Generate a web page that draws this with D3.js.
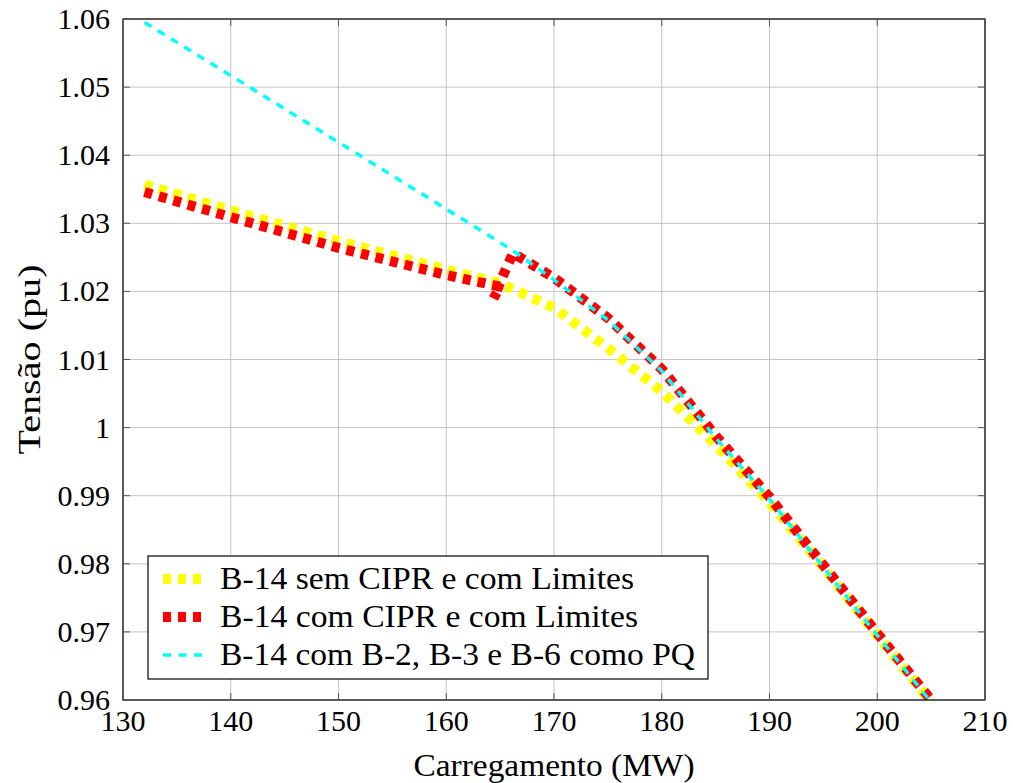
<!DOCTYPE html>
<html><head><meta charset="utf-8">
<script src="https://cdn.jsdelivr.net/npm/d3@7"></script>
</head><body style="margin:0;background:#fff"><svg id="c" width="1013" height="783"></svg>
<script>
// ---- data ----
const xTicks = [130,140,150,160,170,180,190,200,210];
const yTicks = [0.96,0.97,0.98,0.99,1.00,1.01,1.02,1.03,1.04,1.05,1.06];
const yTickLabels = ["0.96","0.97","0.98","0.99","1","1.01","1.02","1.03","1.04","1.05","1.06"];
const seriesNames = ["B-14 sem CIPR e com Limites","B-14 com CIPR e com Limites","B-14 com B-2, B-3 e B-6 como PQ"];

const yellowX = [132,140,150,160,165,170,175,180,185,190,195,200,205];
const yellowY = [1.0357,1.0319,1.0274,1.0232,1.0212,1.0176,1.0117,1.0053,0.9975,0.9890,0.9795,0.9695,0.9597];

const redX = [132,140,150,160,165,164.4,165.4,166.2,170,175,180,185,190,195,200,205];
const redY = [1.0346,1.0309,1.0264,1.0224,1.0207,1.0190,1.0228,1.0256,1.0220,1.0161,1.0086,0.9988,0.9898,0.9798,0.9698,0.9600];

const cyanX = [132,140,150,160,166,170,175,180,185,190,195,200,205];
const cyanY = [1.0595,1.0517,1.0419,1.0321,1.0262,1.0217,1.0158,1.0083,0.9985,0.9895,0.9795,0.9695,0.9597];

// ---- layout ----
const L=123, T=19, W=862, H=681;
const svg = d3.select("#c");
const x = d3.scaleLinear().domain([130,210]).range([L, L+W]);
const y = d3.scaleLinear().domain([0.96,1.06]).range([T+H, T]);

function label(sel, size){
  return sel.style("font-family", '"Liberation Serif"').attr("font-size", size).attr("fill","#000");
}

svg.append("defs").append("clipPath").attr("id","clip")
  .append("rect").attr("x",L).attr("y",T).attr("width",W).attr("height",H);

// grid
const g = svg.append("g");
xTicks.forEach(v=>g.append("line").attr("x1",x(v)).attr("x2",x(v)).attr("y1",T).attr("y2",T+H)
  .attr("stroke","#c4c4c4").attr("stroke-width",1));
yTicks.forEach(v=>g.append("line").attr("y1",y(v)).attr("y2",y(v)).attr("x1",L).attr("x2",L+W)
  .attr("stroke","#c4c4c4").attr("stroke-width",1));

// lines
const line = d3.line().x(d=>x(d[0])).y(d=>y(d[1]));
const lg = svg.append("g").attr("clip-path","url(#clip)");
function zip(a,b){return a.map((v,i)=>[v,b[i]]);}
lg.append("path").attr("d",line(zip(yellowX,yellowY))).attr("fill","none")
  .attr("stroke","#ffff00").attr("stroke-width",10).attr("stroke-dasharray","8 7");
lg.append("path").attr("d",line(zip(redX,redY))).attr("fill","none")
  .attr("stroke","#ff0000").attr("stroke-width",10).attr("stroke-dasharray","8 7");
lg.append("path").attr("d",line(zip(cyanX,cyanY))).attr("fill","none")
  .attr("stroke","#00ffff").attr("stroke-width",3.5).attr("stroke-dasharray","8 7.5");

// frame
svg.append("rect").attr("x",L).attr("y",T).attr("width",W).attr("height",H)
  .attr("fill","none").attr("stroke","#000").attr("stroke-width",1.2);

// ticks (inside, all sides)
const tk = svg.append("g").attr("stroke","#555").attr("stroke-width",1);
xTicks.forEach(v=>{
  tk.append("line").attr("x1",x(v)).attr("x2",x(v)).attr("y1",T+H).attr("y2",T+H-7);
  tk.append("line").attr("x1",x(v)).attr("x2",x(v)).attr("y1",T).attr("y2",T+7);
});
yTicks.forEach(v=>{
  tk.append("line").attr("y1",y(v)).attr("y2",y(v)).attr("x1",L).attr("x2",L+7);
  tk.append("line").attr("y1",y(v)).attr("y2",y(v)).attr("x1",L+W).attr("x2",L+W-7);
});

// tick labels
xTicks.forEach(v=>label(svg.append("text"),30)
  .attr("x",x(v)).attr("y",T+H+31).attr("text-anchor","middle").text(v));
yTicks.forEach((v,i)=>label(svg.append("text"),30)
  .attr("x",L-13).attr("y",y(v)+10).attr("text-anchor","end").text(yTickLabels[i]));

// axis titles
label(svg.append("text"),32).attr("x",L+W/2).attr("y",776).attr("text-anchor","middle")
  .attr("textLength",281).attr("lengthAdjust","spacingAndGlyphs").text("Carregamento (MW)");
label(svg.append("text"),32).attr("transform",`translate(40,${T+H/2}) rotate(-90)`).attr("text-anchor","middle")
  .attr("textLength",190).attr("lengthAdjust","spacingAndGlyphs").text("Tensão (pu)");

// legend
const lgd = svg.append("g");
lgd.append("rect").attr("x",148).attr("y",556).attr("width",560).attr("height",123)
  .attr("fill","#fff").attr("stroke","#000").attr("stroke-width",1.2);
const rowsY=[579,617,655];
const styles=[{c:"#ffff00",w:10,d:"8 7"},{c:"#ff0000",w:10,d:"8 7"},{c:"#00ffff",w:3.5,d:"8 7.5"}];
const textLens=[414,418,475];
seriesNames.forEach((n,i)=>{
  lgd.append("line").attr("x1",163).attr("x2",203).attr("y1",rowsY[i]).attr("y2",rowsY[i])
    .attr("stroke",styles[i].c).attr("stroke-width",styles[i].w).attr("stroke-dasharray",styles[i].d);
  label(lgd.append("text"),32).attr("x",220).attr("y",rowsY[i]+10)
    .attr("textLength",textLens[i]).attr("lengthAdjust","spacingAndGlyphs").text(n);
});
</script></body></html>
